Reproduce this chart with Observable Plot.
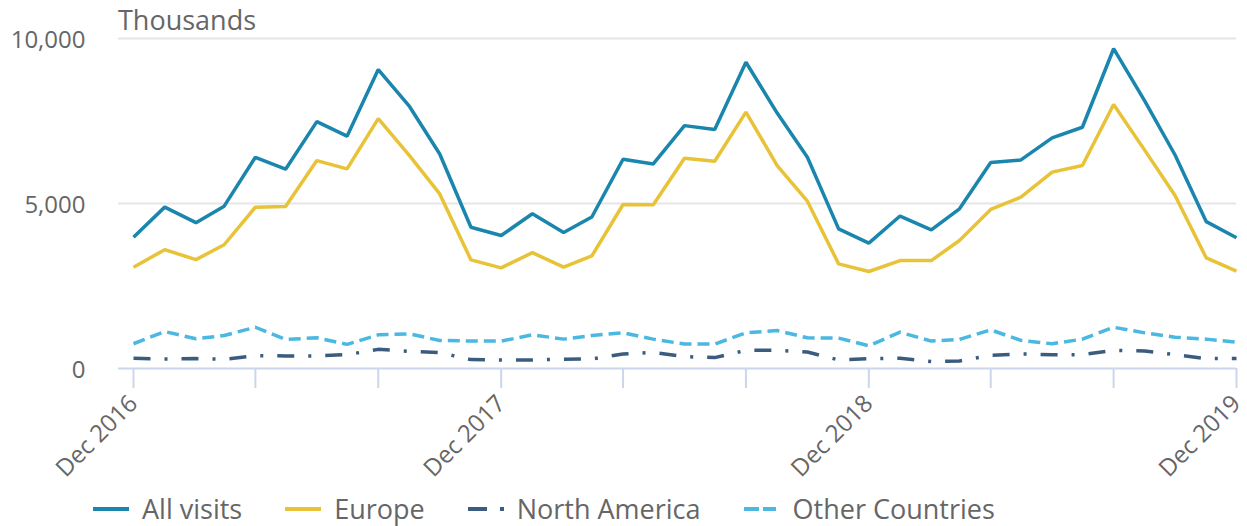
<!DOCTYPE html>
<html>
<head>
<meta charset="utf-8">
<script src="https://cdn.jsdelivr.net/npm/d3@7"></script>
<script src="https://cdn.jsdelivr.net/npm/@observablehq/plot@0.6"></script>
<style>
  html, body { margin: 0; padding: 0; background: #fff; }
  body { width: 1247px; height: 526px; position: relative; overflow: hidden; font-family: "Open Sans", sans-serif; }
  #title { position: absolute; left: 118px; top: 6px; font-size: 27px; line-height: 1; color: #666; }
  #chart { position: absolute; left: 0; top: 0; }
  #legend { position: absolute; left: 93px; top: 495px; height: 27px; display: flex; align-items: center; font-size: 27px; line-height: 1; color: #666; white-space: nowrap; }
  .item { display: flex; align-items: center; margin-right: 43px; }
  .item svg { margin-right: 13px; }
</style>
</head>
<body>
<div id="chart"></div>
<div id="title">Thousands</div>
<div id="legend"></div>
<script>
const months = ["2016-12","2017-01","2017-02","2017-03","2017-04","2017-05","2017-06","2017-07","2017-08","2017-09","2017-10","2017-11",
  "2017-12","2018-01","2018-02","2018-03","2018-04","2018-05","2018-06","2018-07","2018-08","2018-09","2018-10","2018-11",
  "2018-12","2019-01","2019-02","2019-03","2019-04","2019-05","2019-06","2019-07","2019-08","2019-09","2019-10","2019-11","2019-12"];

const allVisits = [3980,4890,4420,4920,6400,6040,7480,7040,9060,7940,6500,4280,
  4030,4690,4120,4590,6340,6200,7360,7240,9280,7740,6400,4230,
  3800,4620,4200,4840,6240,6320,6990,7310,9690,8100,6470,4450,3960];
const europe = [3070,3600,3300,3750,4890,4910,6300,6050,7570,6450,5290,3290,
  3050,3510,3070,3410,4970,4960,6370,6280,7770,6150,5070,3170,
  2940,3270,3270,3880,4820,5190,5950,6150,8000,6610,5240,3350,2950];
const northAmerica = [310,290,300,280,390,380,380,420,580,520,480,270,
  260,260,280,290,440,490,360,330,550,550,500,260,
  300,310,210,230,400,440,420,420,550,530,420,300,300];
const otherCountries = [750,1120,900,1000,1250,880,930,730,1020,1050,850,830,
  830,1020,890,1000,1080,890,740,740,1080,1150,930,920,
  690,1100,830,880,1170,850,750,890,1250,1080,950,890,800];

const seriesNames = ["All visits", "Europe", "North America", "Other Countries"];
const seriesColors = ["#1a86ad", "#e8c338", "#3b5c7e", "#4ab8e0"];
const seriesDash = [null, null, "17,14,3,14", "12,6"];
const yTicks = [0, 5000, 10000];
const tickMonths = ["2016-12","2017-04","2017-08","2017-12","2018-04","2018-08","2018-12","2019-04","2019-08","2019-12"];
const labelMonths = ["2016-12","2017-12","2018-12","2019-12"];

const parse = d3.utcParse("%Y-%m");
const dates = months.map(parse);
const seriesValues = [allVisits, europe, northAmerica, otherCountries];
const rows = seriesValues.map(vals => vals.map((v, i) => ({date: dates[i], value: v})));

const lineMarks = [3, 2, 1, 0].map(k => Plot.line(rows[k], {
  x: "date", y: "value", stroke: seriesColors[k], strokeWidth: 3.5,
  strokeDasharray: seriesDash[k] ?? undefined, strokeLinejoin: "miter", strokeLinecap: "butt"
}));

const chart = Plot.plot({
  width: 1247,
  height: 490,
  marginLeft: 118,
  marginRight: 11,
  marginTop: 38,
  marginBottom: 122,
  style: {fontFamily: "'Open Sans', sans-serif", fontSize: "24px", color: "#666", background: "transparent"},
  x: {type: "utc", domain: [dates[0], dates[dates.length - 1]], insetLeft: 15},
  y: {domain: [0, 10000]},
  marks: [
    Plot.ruleY(yTicks.filter(d => d > 0), {stroke: "#e6e6e6", strokeWidth: 2}),
    Plot.axisY({ticks: yTicks, tickSize: 0, tickPadding: 33, tickFormat: d3.format(","), label: null, fill: "#666", fontSize: 24, dy: 2}),
    Plot.axisX({ticks: tickMonths.map(parse), tickSize: 20, tickFormat: () => "", stroke: "#ccd6eb", strokeWidth: 2, label: null}),
    Plot.axisX({ticks: labelMonths.map(parse), tickSize: 0, tickPadding: 31, tickRotate: -45, tickFormat: d3.utcFormat("%b %Y"), label: null, fill: "#666", fontSize: 24}),
    Plot.ruleY([0], {stroke: "#ccd6eb", strokeWidth: 2}),
    ...lineMarks
  ]
});
document.getElementById("chart").appendChild(chart);

const legend = document.getElementById("legend");
seriesNames.forEach((name, k) => {
  const item = document.createElement("div");
  item.className = "item";
  const dash = seriesDash[k] ? (k === 2 ? "19,13,4,100" : "15,4,13,100") : "";
  item.innerHTML = `<svg width="36" height="10"><line x1="0" y1="5" x2="36" y2="5" stroke="${seriesColors[k]}" stroke-width="4" ${dash ? `stroke-dasharray="${dash}"` : ""}/></svg><span>${name}</span>`;
  legend.appendChild(item);
});
</script>
</body>
</html>
